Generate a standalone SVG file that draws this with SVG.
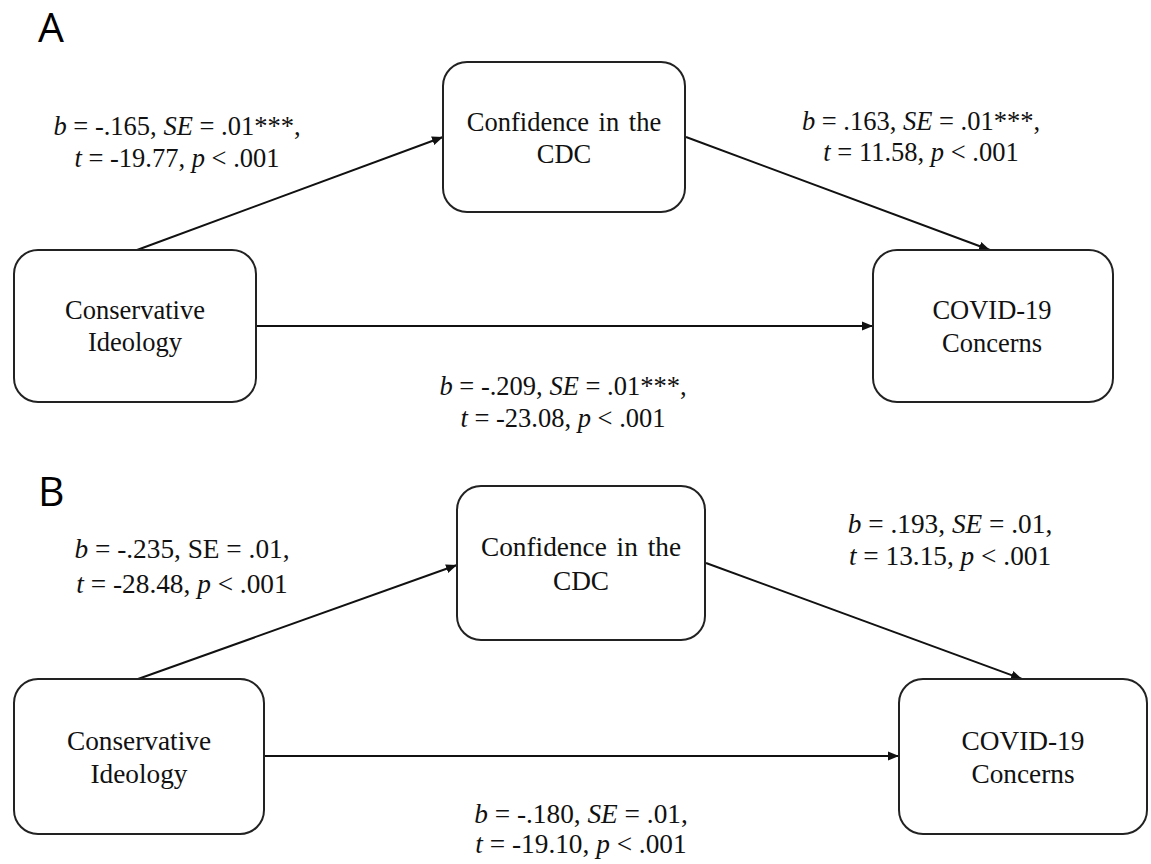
<svg xmlns="http://www.w3.org/2000/svg" width="1151" height="864" viewBox="0 0 1151 864">
<style>
.box{fill:#fff;stroke:#222;stroke-width:2}
.edge{stroke:#111;stroke-width:2;fill:none}
.nt{font-family:"Liberation Serif","Times New Roman",serif;fill:#111;text-anchor:middle}
.a{font-size:26.5px}
.b{font-size:27.3px}
.panel{font-family:"Open Sans","Liberation Sans",sans-serif;font-size:41px;fill:#000}
.i{font-style:italic}
</style>
<defs>
<marker id="arr" markerUnits="userSpaceOnUse" markerWidth="12" markerHeight="10" refX="11" refY="5" orient="auto">
<path d="M0,0.5 L11,5 L0,9.5 z" fill="#111"/>
</marker>
</defs>
<rect width="1151" height="864" fill="#fff"/>
<text class="panel" x="38" y="42">A</text>
<text class="panel" x="38" y="506">B</text>

<g id="connectors">
<line class="edge" x1="137" y1="250" x2="443" y2="137" marker-end="url(#arr)"/>
<line class="edge" x1="686" y1="137" x2="990" y2="250" marker-end="url(#arr)"/>
<line class="edge" x1="256" y1="326" x2="873" y2="326" marker-end="url(#arr)"/>
<line class="edge" x1="138" y1="679" x2="457" y2="565" marker-end="url(#arr)"/>
<line class="edge" x1="706" y1="563" x2="1022" y2="679" marker-end="url(#arr)"/>
<line class="edge" x1="264" y1="756" x2="899" y2="756" marker-end="url(#arr)"/>
</g>

<g id="labels">
<text class="nt a" x="177" y="135"><tspan class="i">b</tspan> = -.165, <tspan class="i">SE</tspan> = .01***,</text>
<text class="nt a" x="177" y="167"><tspan class="i">t</tspan> = -19.77, <tspan class="i">p</tspan> &lt; .001</text>
<text class="nt a" x="921" y="130"><tspan class="i">b</tspan> = .163, <tspan class="i">SE</tspan> = .01***,</text>
<text class="nt a" x="921" y="161"><tspan class="i">t</tspan> = 11.58, <tspan class="i">p</tspan> &lt; .001</text>
<text class="nt a" x="563" y="395"><tspan class="i">b</tspan> = -.209, <tspan class="i">SE</tspan> = .01***,</text>
<text class="nt a" x="563" y="427"><tspan class="i">t</tspan> = -23.08, <tspan class="i">p</tspan> &lt; .001</text>
<text class="nt b" x="182" y="558"><tspan class="i">b</tspan> = -.235, SE = .01,</text>
<text class="nt b" x="182" y="593"><tspan class="i">t</tspan> = -28.48, <tspan class="i">p</tspan> &lt; .001</text>
<text class="nt b" x="950" y="533"><tspan class="i">b</tspan> = .193, <tspan class="i">SE</tspan> = .01,</text>
<text class="nt b" x="950" y="565"><tspan class="i">t</tspan> = 13.15, <tspan class="i">p</tspan> &lt; .001</text>
<text class="nt b" x="581" y="823"><tspan class="i">b</tspan> = -.180, <tspan class="i">SE</tspan> = .01,</text>
<text class="nt b" x="581" y="853"><tspan class="i">t</tspan> = -19.10, <tspan class="i">p</tspan> &lt; .001</text>
</g>

<g id="A-conservative">
<rect class="box" x="14" y="250" width="242" height="152" rx="24"/>
<text class="nt a" x="135" y="319">Conservative</text>
<text class="nt a" x="135" y="351">Ideology</text>
</g>
<g id="A-confidence">
<rect class="box" x="443" y="62" width="242" height="150" rx="24"/>
<text class="nt a" x="564" y="131" word-spacing="3">Confidence in the</text>
<text class="nt a" x="564" y="163">CDC</text>
</g>
<g id="A-covid">
<rect class="box" x="873" y="250" width="240" height="152" rx="24"/>
<text class="nt a" x="992" y="319">COVID-19</text>
<text class="nt a" x="992" y="352">Concerns</text>
</g>

<g id="B-conservative">
<rect class="box" x="14" y="679" width="250" height="155" rx="24"/>
<text class="nt b" x="139" y="750">Conservative</text>
<text class="nt b" x="139" y="783">Ideology</text>
</g>
<g id="B-confidence">
<rect class="box" x="457" y="486" width="248" height="154" rx="24"/>
<text class="nt b" x="581" y="556" word-spacing="3">Confidence in the</text>
<text class="nt b" x="581" y="590">CDC</text>
</g>
<g id="B-covid">
<rect class="box" x="899" y="679" width="248" height="155" rx="24"/>
<text class="nt b" x="1023" y="750">COVID-19</text>
<text class="nt b" x="1023" y="783">Concerns</text>
</g>
</svg>
